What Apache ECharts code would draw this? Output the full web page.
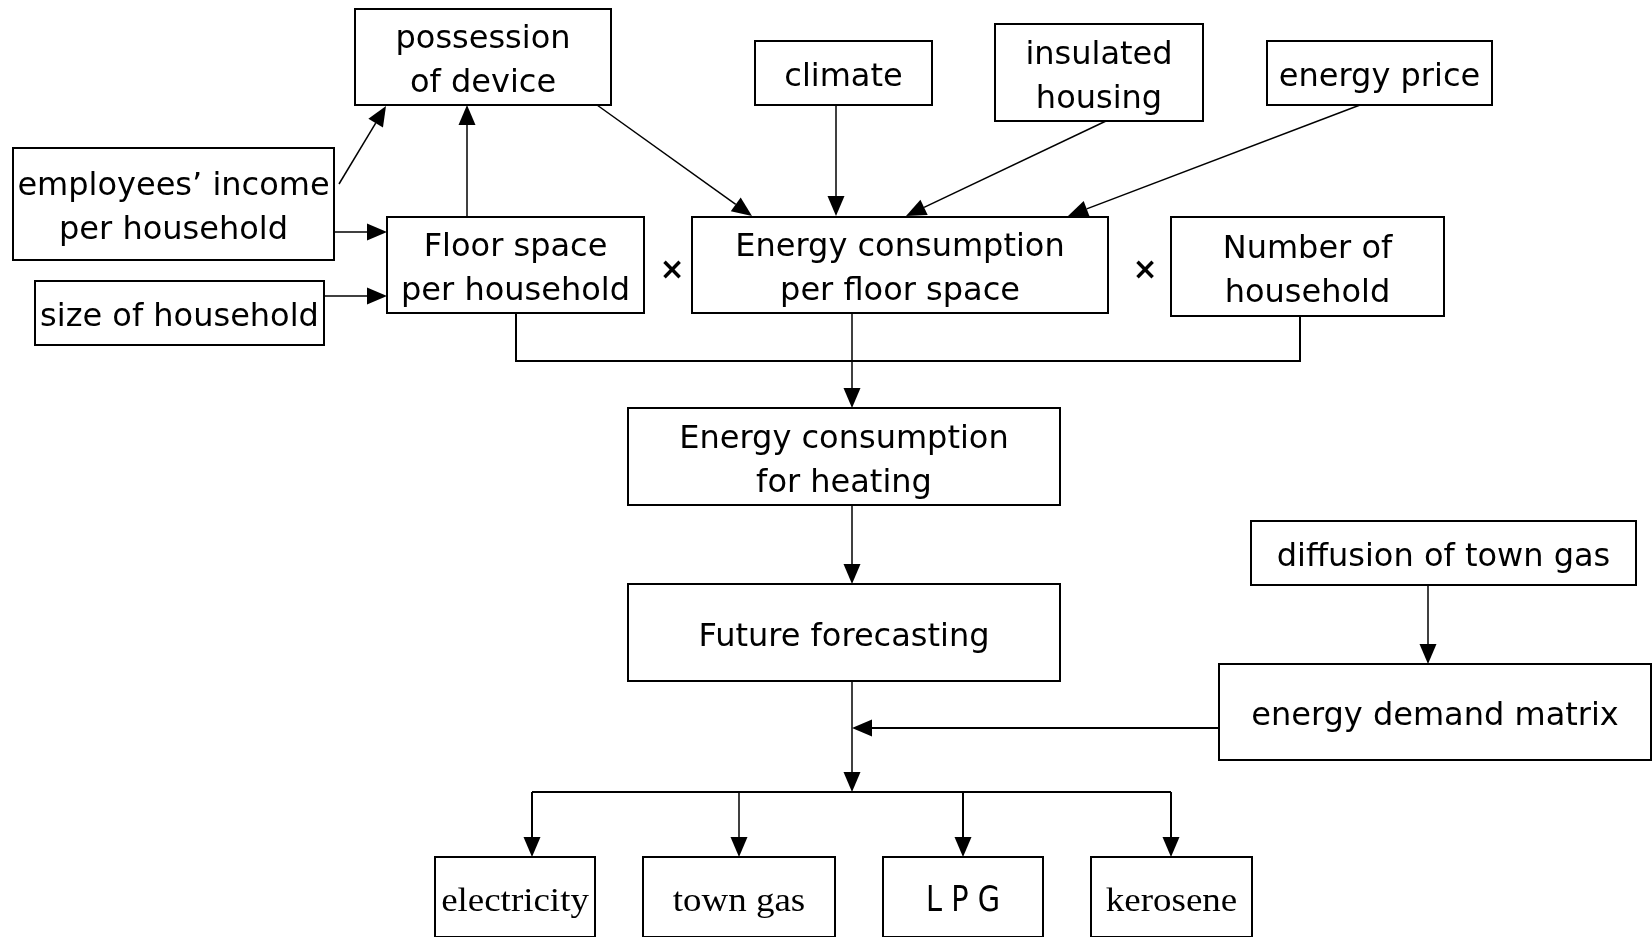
<!DOCTYPE html>
<html>
<head>
<meta charset="utf-8">
<style>
  html, body { margin: 0; padding: 0; background: #fff; }
  #chart { width: 1652px; height: 937px; }
</style>
<script src="https://cdn.jsdelivr.net/npm/echarts@6/dist/echarts.min.js"></script>
</head>
<body>
<div id="chart"></div>
<script>
// box texts (kind: sans / serif / lpg)
const nodeNames = [
  'possession\nof device', 'climate', 'insulated\nhousing', 'energy price',
  'employees\u2019 income\nper household', 'size of household',
  'Floor space\nper household', 'Energy consumption\nper floor space', 'Number of\nhousehold',
  'Energy consumption\nfor heating', 'Future forecasting',
  'diffusion of town gas', 'energy demand matrix',
  'electricity', 'town gas', 'L P G', 'kerosene'
]
const nodeKinds = [
  'sans', 'sans', 'sans', 'sans', 'sans', 'sans', 'sans', 'sans', 'sans',
  'sans', 'sans', 'sans', 'sans', 'serif', 'serif', 'lpg', 'serif'
]
// layout of the diagram: [left, top, right, bottom]
const nodeBoxes = [
  [355, 9, 611, 105], [755, 41, 932, 105], [995, 24, 1203, 121], [1267, 41, 1492, 105],
  [13, 148, 334, 260], [35, 281, 324, 345],
  [387, 217, 644, 313], [692, 217, 1108, 313], [1171, 217, 1444, 316],
  [628, 408, 1060, 505], [628, 584, 1060, 681],
  [1251, 521, 1636, 585], [1219, 664, 1651, 760],
  [435, 857, 595, 937], [643, 857, 835, 937], [883, 857, 1043, 937], [1091, 857, 1252, 937]
]
const operators = ['×', '×']
const operatorPos = [[672, 271], [1145, 271]]

// connectors: points along the path, arrow at the last point if set
const links = [
  { path: [[339, 184], [386, 106]], arrow: true },
  { path: [[467, 217], [467, 105]], arrow: true },
  { path: [[334, 232], [387, 232]], arrow: true },
  { path: [[324, 296], [387, 296]], arrow: true },
  { path: [[597, 105], [752, 216]], arrow: true },
  { path: [[836, 105], [836, 216]], arrow: true },
  { path: [[1106, 121], [906, 216]], arrow: true },
  { path: [[1360, 105], [1068, 216]], arrow: true },
  { path: [[516, 313], [516, 361], [1300, 361], [1300, 316]], arrow: false, width: 2 },
  { path: [[852, 313], [852, 408]], arrow: true },
  { path: [[852, 505], [852, 584]], arrow: true },
  { path: [[852, 681], [852, 792]], arrow: true },
  { path: [[1428, 585], [1428, 664]], arrow: true },
  { path: [[1219, 728], [852, 728]], arrow: true, width: 2 },
  { path: [[532, 792], [1171, 792]], arrow: false, width: 2 },
  { path: [[532, 792], [532, 857]], arrow: true, width: 2 },
  { path: [[739, 792], [739, 857]], arrow: true },
  { path: [[963, 792], [963, 857]], arrow: true, width: 2 },
  { path: [[1171, 792], [1171, 857]], arrow: true, width: 2 }
]

const textStyles = {
  sans: { font: '32px "DejaVu Sans"', lineHeight: 44, scaleX: 1 },
  serif: { font: '33px "Liberation Serif"', lineHeight: 40, scaleX: 1.12 },
  lpg: { font: '36px "DejaVu Sans"', lineHeight: 40, scaleX: 0.8 }
}

const chart = echarts.init(document.getElementById('chart'))

function renderBox (params, api) {
  const i = params.dataIndex
  const p0 = api.coord([api.value(0), api.value(1)])
  const p1 = api.coord([api.value(2), api.value(3)])
  const ts = textStyles[nodeKinds[i]]
  const cx = (p0[0] + p1[0]) / 2
  const cy = (p0[1] + p1[1]) / 2 + 5
  return {
    type: 'group',
    children: [
      {
        type: 'rect',
        shape: { x: p0[0], y: p0[1], width: p1[0] - p0[0], height: p1[1] - p0[1] },
        style: { fill: '#fff', stroke: '#000', lineWidth: 2 }
      },
      {
        type: 'text',
        x: cx,
        y: cy,
        scaleX: ts.scaleX,
        style: {
          text: nodeNames[i],
          font: ts.font,
          lineHeight: ts.lineHeight,
          align: 'center',
          verticalAlign: 'middle',
          fill: '#000'
        }
      }
    ]
  }
}

function renderLink (params, api) {
  const link = links[params.dataIndex]
  const pts = link.path.map(p => api.coord(p))
  const children = []
  const len = 20
  const half = 8.5
  let linePts = pts
  if (link.arrow) {
    const end = pts[pts.length - 1]
    const prev = pts[pts.length - 2]
    const dx = end[0] - prev[0]
    const dy = end[1] - prev[1]
    const d = Math.sqrt(dx * dx + dy * dy)
    const ux = dx / d
    const uy = dy / d
    const bx = end[0] - ux * len
    const by = end[1] - uy * len
    linePts = pts.slice(0, -1).concat([[bx, by]])
    children.push({
      type: 'polygon',
      shape: { points: [end, [bx - uy * half, by + ux * half], [bx + uy * half, by - ux * half]] },
      style: { fill: '#000' }
    })
  }
  children.unshift({
    type: 'polyline',
    shape: { points: linePts },
    style: { stroke: '#000', lineWidth: link.width || 1.5, fill: null }
  })
  return { type: 'group', children }
}

function renderOperator (params, api) {
  const p = api.coord([api.value(0), api.value(1)])
  return {
    type: 'text',
    x: p[0],
    y: p[1],
    style: {
      text: operators[params.dataIndex],
      font: 'bold 30px "DejaVu Sans"',
      align: 'center',
      verticalAlign: 'middle',
      fill: '#000'
    }
  }
}

chart.setOption({
  animation: false,
  grid: { left: 0, right: 0, top: 0, bottom: 0 },
  xAxis: { type: 'value', min: 0, max: 1652, show: false },
  yAxis: { type: 'value', min: 0, max: 937, inverse: true, show: false },
  series: [
    {
      type: 'custom',
      name: 'links',
      renderItem: renderLink,
      encode: { x: 0, y: 1 },
      data: links.map(l => [l.path[0][0], l.path[0][1]])
    },
    {
      type: 'custom',
      name: 'boxes',
      renderItem: renderBox,
      encode: { x: [0, 2], y: [1, 3] },
      data: nodeBoxes.map(b => b.slice())
    },
    {
      type: 'custom',
      name: 'operators',
      renderItem: renderOperator,
      encode: { x: 0, y: 1 },
      data: operatorPos.map(p => p.slice())
    }
  ]
})
</script>
</body>
</html>
